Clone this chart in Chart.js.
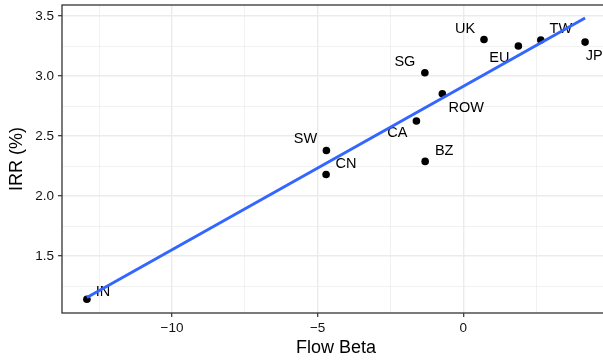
<!DOCTYPE html>
<html>
<head>
<meta charset="utf-8">
<script src="https://cdn.jsdelivr.net/npm/chart.js@4/dist/chart.umd.min.js"></script>
<style>
  html, body { margin: 0; padding: 0; background: #fff; overflow: hidden; }
  #clip { width: 603px; height: 360px; overflow: hidden; }
  #wrap { width: 614px; height: 360px; }
</style>
</head>
<body>
<div id="clip"><div id="wrap"><canvas id="chart" width="614" height="360"></canvas></div></div>
<script>
// data
const countries = ['IN', 'SW', 'CN', 'BZ', 'CA', 'SG', 'ROW', 'UK', 'EU', 'TW', 'JP'];
const flowBeta  = [-12.92, -4.70, -4.71, -1.31, -1.61, -1.32, -0.72, 0.71, 1.89, 2.66, 4.18];
const irr       = [1.141, 2.380, 2.180, 2.289, 2.626, 3.027, 2.852, 3.305, 3.250, 3.300, 3.283];

const xTicks = [-12.5, -10, -7.5, -5, -2.5, 0, 2.5];
const xTickLabels = ['', '\u221210', '', '\u22125', '', '0', ''];
const yTicks = [1.25, 1.5, 1.75, 2.0, 2.25, 2.5, 2.75, 3.0, 3.25, 3.5];
const yTickLabels = ['', '1.5', '', '2.0', '', '2.5', '', '3.0', '', '3.5'];

// where each label sits relative to its point (px)
const labelOffsets = {
    IN: [16, -7], SW: [-21, -11], CN: [20, -10], BZ: [19, -10], CA: [-19, 12],
    SG: [-20, -11], ROW: [24, 14], UK: [-19, -10], EU: [-19, 12], TW: [20, -11], JP: [9, 14]
};

const FONT = "'Liberation Sans', Arial, sans-serif";

function fitLine(xs, ys) {
    const n = xs.length;
    const mx = xs.reduce((a, b) => a + b, 0) / n;
    const my = ys.reduce((a, b) => a + b, 0) / n;
    let sxy = 0, sxx = 0;
    for (let i = 0; i < n; i++) {
        sxy += (xs[i] - mx) * (ys[i] - my);
        sxx += (xs[i] - mx) * (xs[i] - mx);
    }
    const slope = sxy / sxx;
    return x => my + slope * (x - mx);
}

const fit = fitLine(flowBeta, irr);
const xLo = Math.min(...flowBeta);
const xHi = Math.max(...flowBeta);

const pointLabels = {
    id: 'pointLabels',
    afterDatasetDraw(chart, args) {
        if (args.index !== 1) return;
        const ctx = chart.ctx;
        const meta = chart.getDatasetMeta(1);
        ctx.save();
        ctx.font = '14.5px ' + FONT;
        ctx.fillStyle = '#000';
        ctx.textAlign = 'center';
        ctx.textBaseline = 'middle';
        meta.data.forEach((pt, i) => {
            const off = labelOffsets[countries[i]] || [0, 0];
            ctx.fillText(countries[i], pt.x + off[0], pt.y + off[1]);
        });
        ctx.restore();
    }
};

const panelBorder = {
    id: 'panelBorder',
    afterDraw(chart) {
        const {ctx, chartArea: a} = chart;
        ctx.save();
        ctx.strokeStyle = '#333333';
        ctx.lineWidth = 1.3;
        ctx.strokeRect(a.left, a.top, a.right - a.left, a.bottom - a.top);
        ctx.restore();
    }
};

function isMajor(labels, idx) { return labels[idx] !== ''; }

new Chart(document.getElementById('chart'), {
    data: {
        datasets: [
            {
                type: 'line',
                label: 'fit',
                data: [{x: xLo, y: fit(xLo)}, {x: xHi, y: fit(xHi)}],
                borderColor: '#3366FF',
                borderWidth: 3,
                pointRadius: 0,
                fill: false,
                order: 0
            },
            {
                type: 'scatter',
                label: 'countries',
                data: flowBeta.map((x, i) => ({x: x, y: irr[i]})),
                backgroundColor: '#000',
                borderWidth: 0,
                pointRadius: 3.8,
                order: 1
            }
        ]
    },
    options: {
        responsive: false,
        animation: false,
        layout: { padding: { top: 5, right: 3, bottom: 0, left: 0 } },
        plugins: { legend: { display: false }, tooltip: { enabled: false } },
        scales: {
            x: {
                type: 'linear',
                position: 'bottom',
                min: -13.775,
                max: 5.035,
                afterBuildTicks: s => { s.ticks = xTicks.map(v => ({value: v})); },
                afterFit: s => { s.height = 47; s.paddingLeft = 0; s.paddingRight = 0; },
                border: { display: false },
                grid: {
                    color: '#EBEBEB',
                    lineWidth: c => isMajor(xTickLabels, c.index) ? 1.4 : 0.7,
                    tickColor: c => isMajor(xTickLabels, c.index) ? '#333333' : 'rgba(0,0,0,0)',
                    tickLength: 4,
                    tickWidth: 1.2
                },
                ticks: {
                    autoSkip: false,
                    maxRotation: 0,
                    padding: 3,
                    color: '#111',
                    font: { family: FONT, size: 13.5 },
                    callback: (v, i) => xTickLabels[i]
                },
                title: {
                    display: true,
                    text: 'Flow Beta',
                    color: '#000',
                    font: { family: FONT, size: 18 },
                    padding: { top: 0, bottom: 1 }
                }
            },
            y: {
                type: 'linear',
                min: 1.026,
                max: 3.592,
                afterBuildTicks: s => { s.ticks = yTicks.map(v => ({value: v})); },
                afterFit: s => { s.width = 62; s.paddingTop = 0; s.paddingBottom = 0; },
                border: { display: false },
                grid: {
                    color: '#EBEBEB',
                    lineWidth: c => isMajor(yTickLabels, c.index) ? 1.4 : 0.7,
                    tickColor: c => isMajor(yTickLabels, c.index) ? '#333333' : 'rgba(0,0,0,0)',
                    tickLength: 4,
                    tickWidth: 1.2
                },
                ticks: {
                    autoSkip: false,
                    padding: 4,
                    color: '#111',
                    font: { family: FONT, size: 13.5 },
                    callback: (v, i) => yTickLabels[i]
                },
                title: {
                    display: true,
                    text: 'IRR (%)',
                    color: '#000',
                    font: { family: FONT, size: 18 },
                    padding: { top: 6, bottom: 0 }
                }
            }
        }
    },
    plugins: [pointLabels, panelBorder]
});
</script>
</body>
</html>
